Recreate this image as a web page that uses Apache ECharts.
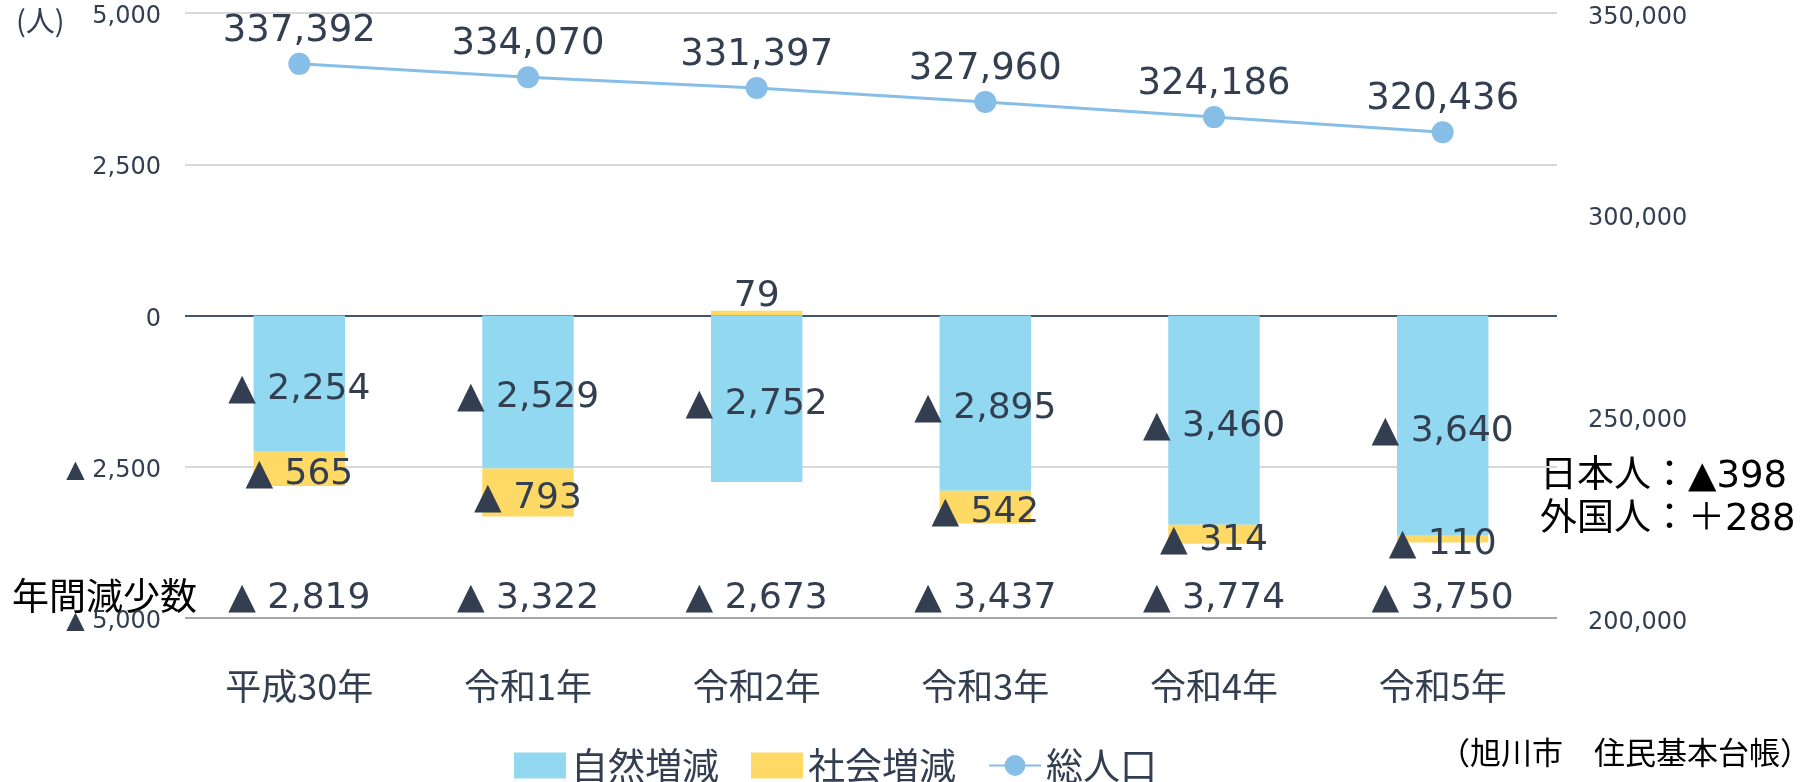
<!DOCTYPE html>
<html>
<head>
<meta charset="utf-8">
<script src="https://cdn.jsdelivr.net/npm/echarts@6/dist/echarts.min.js"></script>
<style>
  html, body { margin: 0; padding: 0; background: #fff; }
  #chart { width: 1808px; height: 782px; }
</style>
</head>
<body>
<div id="chart"></div>
<script>
// years
const categories = ["平成30年", "令和1年", "令和2年", "令和3年", "令和4年", "令和5年"];
// natural change (births - deaths)
const naturalChange = [-2254, -2529, -2752, -2895, -3460, -3640];
// social change (moves in - moves out)
const socialChange = [-565, -793, 79, -542, -314, -110];
// annual decrease
const totals = [-2819, -3322, -2673, -3437, -3774, -3750];
// total population
const population = [337392, 334070, 331397, 327960, 324186, 320436];

const textColor = "#333F50";
const numFont = "DejaVu Sans, Noto Sans CJK JP";
const cjkFont = "Noto Sans CJK JP";

function fmt(v) {
  let s = Math.abs(v).toLocaleString("en-US");
  return v < 0 ? "▲ " + s : s;
}

let chart = echarts.init(document.getElementById("chart"));

let barLabel = {
  show: true,
  position: "inside",
  offset: [0, 6],
  fontSize: 36,
  color: textColor,
  fontFamily: numFont,
  formatter: (p) => fmt(p.value),
};

let option = {
  animation: false,
  grid: { left: 185, right: 251, top: 13, bottom: 164 },
  legend: {
    left: 509,
    top: 742,
    itemWidth: 52,
    itemHeight: 26,
    itemGap: 32,
    textStyle: { fontSize: 37, color: textColor, fontFamily: cjkFont },
    data: [
      { name: "自然増減", icon: "rect" },
      { name: "社会増減", icon: "rect" },
      { name: "総人口" },
    ],
  },
  xAxis: [
    {
      type: "category",
      data: categories,
      axisLine: { show: false },
      axisTick: { show: false },
      axisLabel: {
        margin: 50,
        fontSize: 36,
        color: textColor,
        fontFamily: cjkFont,
      },
    },
    {
      // annual decrease row
      type: "category",
      position: "bottom",
      offset: -37,
      data: totals.map(fmt),
      axisLine: { show: false },
      axisTick: { show: false },
      axisLabel: {
        margin: 0,
        fontSize: 36,
        color: textColor,
        fontFamily: numFont,
      },
    },
  ],
  yAxis: [
    {
      type: "value",
      min: -5000,
      max: 5000,
      interval: 2500,
      axisLine: { show: false },
      axisTick: { show: false },
      axisLabel: {
        margin: 24,
        fontSize: 24,
        verticalAlign: "top",
        lineHeight: 8,
        color: textColor,
        fontFamily: numFont,
        formatter: (v) => fmt(v),
      },
      splitLine: {
        lineStyle: {
          width: 2,
          color: ["#A6A6A6", "#D9D9D9", "#44546A", "#D9D9D9", "#D9D9D9"],
        },
      },
    },
    {
      type: "value",
      min: 200000,
      max: 350000,
      interval: 50000,
      axisLine: { show: false },
      axisTick: { show: false },
      splitLine: { show: false },
      axisLabel: {
        margin: 31,
        fontSize: 24,
        verticalAlign: "top",
        lineHeight: 9,
        color: textColor,
        fontFamily: numFont,
        formatter: (v) => v.toLocaleString("en-US"),
      },
    },
  ],
  series: [
    {
      name: "自然増減",
      type: "bar",
      stack: "change",
      barWidth: "40%",
      itemStyle: { color: "#91D8F0" },
      label: barLabel,
      data: naturalChange,
    },
    {
      name: "社会増減",
      type: "bar",
      stack: "change",
      barWidth: "40%",
      itemStyle: { color: "#FFD966" },
      label: barLabel,
      data: socialChange.map((v) =>
        v > 0 ? { value: v, label: { position: "top", distance: 2 } } : v
      ),
    },
    {
      name: "総人口",
      type: "line",
      yAxisIndex: 1,
      z: 5,
      symbol: "circle",
      symbolSize: 22,
      lineStyle: { width: 3, color: "#86BEE8" },
      itemStyle: { color: "#86BEE8" },
      label: {
        show: true,
        position: "top",
        distance: 3,
        fontSize: 37,
        color: textColor,
        fontFamily: numFont,
        formatter: (p) => p.value.toLocaleString("en-US"),
      },
      data: population,
    },
  ],
  graphic: [
    {
      type: "text",
      left: 16,
      top: 6,
      style: { text: "(人)", fontSize: 29, fill: textColor, fontFamily: cjkFont },
    },
    {
      type: "text",
      left: 12,
      top: 577,
      style: { text: "年間減少数", fontSize: 37, fill: "#000", fontFamily: cjkFont },
    },
    {
      type: "text",
      left: 1540,
      top: 456,
      style: {
        text: "日本人：▲398\n外国人：＋288",
        fontSize: 37,
        lineHeight: 43,
        fill: "#000",
        fontFamily: numFont,
      },
    },
    {
      type: "text",
      right: -3,
      top: 737,
      style: {
        text: "（旭川市　住民基本台帳）",
        fontSize: 31,
        fill: "#000",
        fontFamily: cjkFont,
      },
    },
  ],
};

chart.setOption(option);
</script>
</body>
</html>
